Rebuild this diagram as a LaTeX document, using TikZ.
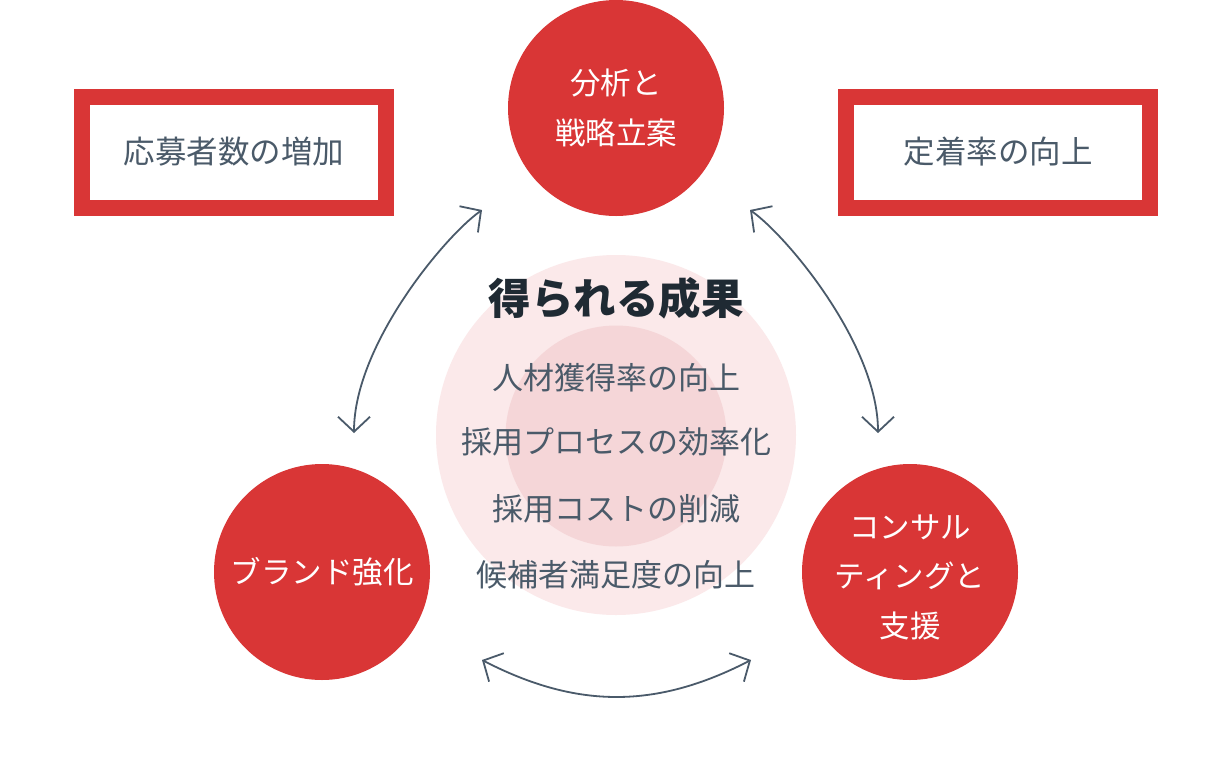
\documentclass[tikz,border=0pt]{standalone}
\usepackage{fontspec}
\setmainfont{Noto Sans CJK JP}
\usetikzlibrary{arrows.meta}
\definecolor{redA}{HTML}{D93636}
\definecolor{pinkout}{HTML}{FBE9EA}
\definecolor{pinkin}{HTML}{F5D6D8}
\definecolor{txtgray}{HTML}{4A5A69}
\definecolor{titledark}{HTML}{1F2A33}
\definecolor{arrowc}{HTML}{4A5A6A}
\tikzset{
  redcirc/.style={circle, fill=redA, minimum size=216pt, inner sep=0pt},
  circtext/.style={align=center, text=white, inner sep=0pt, font=\fontsize{30.5}{49.5}\selectfont},
  goalbox/.style={draw=redA, line width=16pt, fill=white, minimum width=304pt, minimum height=111pt, inner sep=0pt, text=txtgray, font=\fontsize{31.5}{36}\selectfont},
  listitem/.style={text=txtgray, font=\fontsize{31}{38}\selectfont, inner sep=0pt},
  titletext/.style={text=titledark, font=\fontsize{42.5}{50}\selectfont\bfseries, inner sep=0pt},
  cyc/.style={draw=arrowc, line width=1.8pt, {Straight Barb[length=15pt,width=32pt]}-{Straight Barb[length=15pt,width=32pt]}}
}
\begin{document}
\begin{tikzpicture}[x=1pt,y=-1pt]
\useasboundingbox (0,0) rectangle (1232,772);
\fill[white] (0,0) rectangle (1232,772);
% result area
\node[circle, fill=pinkout, minimum size=360pt, inner sep=0pt] (outer) at (616,435) {};
\node[circle, fill=pinkin, minimum size=221pt, inner sep=0pt] (inner) at (616,436) {};
\node[titletext] (title) at (616,298) {得られる成果};
\node[listitem] (r1) at (616,378) {人材獲得率の向上};
\node[listitem] (r2) at (616,442) {採用プロセスの効率化};
\node[listitem] (r3) at (616,509) {採用コストの削減};
\node[listitem] (r4) at (616,575) {候補者満足度の向上};
% circles
\node[redcirc] (top) at (616,108) {};
\node[circtext] (toptxt) at (616,108) {分析と\\戦略立案};
\node[redcirc] (left) at (322,572) {};
\node[circtext] (lefttxt) at (322,572) {ブランド強化};
\node[redcirc] (right) at (910,572) {};
\node[circtext] (righttxt) at (910,577) {コンサル\\ティングと\\支援};
% boxes
\node[goalbox] (boxl) at (234,152) {応募者数の増加};
\node[goalbox] (boxr) at (998,152) {定着率の向上};
% arrows
\coordinate (lt) at (482,210);
\coordinate (lb) at (354,433);
\coordinate (rt) at (750,210);
\coordinate (rb) at (878,433);
\coordinate (bl) at (482,660);
\coordinate (br) at (751,660);
\draw[cyc] (lb) .. controls (354,345) and (445,236) .. (lt);
\draw[cyc] (rt) .. controls (787,236) and (878,345) .. (rb);
\draw[cyc] (bl) .. controls (577,709) and (656,709) .. (br);
\end{tikzpicture}
\end{document}
